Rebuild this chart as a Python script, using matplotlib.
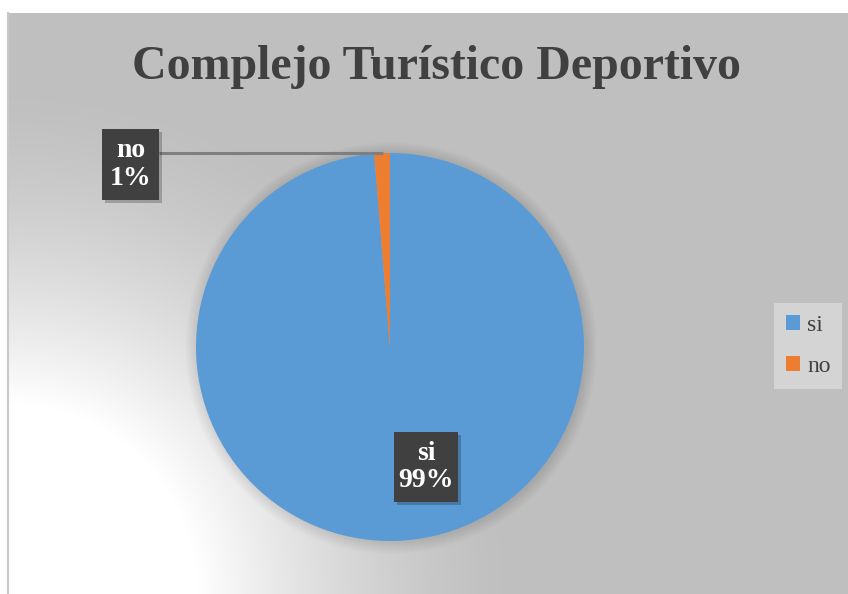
import numpy as np
import matplotlib.pyplot as plt
from matplotlib.patches import Rectangle, Circle

# Data
labels = ["si", "no"]
values = [98.7, 1.3]
pct_text = ["99%", "1%"]
colors = ["#5b9bd5", "#ed7d31"]
title = "Complejo Turístico Deportivo"

W, H = 848, 594
plt.rcParams['font.family'] = ['Liberation Serif', 'DejaVu Serif']

fig = plt.figure(figsize=(W / 100, H / 100), dpi=100)
ax = fig.add_axes([0, 0, 1, 1])

# chart area background: white glow in bottom-left corner fading to gray
x0, y0 = 7, 13  # left / top edge of chart area (px)
gx, gy = np.meshgrid(np.arange(x0, W), np.arange(0, H - y0))
d = np.hypot(gx - x0, gy)
s = np.clip((d - 190) / 320, 0, 1)
t = 1 - (1 - s) ** 1.5
shade = 1.0 * (1 - t) + 0.75 * t
img = np.dstack([shade, shade, shade])
ax.imshow(img, extent=(x0, W, 0, H - y0), origin='lower', zorder=0, interpolation='bilinear')
ax.plot([x0 + 1, x0 + 1], [0, H - y0], color='#c8c8c8', lw=1.5, zorder=1)

# pie
cx, cy, r = 390, H - 347, 194
for k in range(1, 13):
    ax.add_patch(Circle((cx + 1, cy - 1), r + k, color='black', alpha=0.008, lw=0, zorder=1.5))
wedges, _ = ax.pie(values, colors=colors, startangle=90, counterclock=False,
                   center=(cx, cy), radius=r, frame=True,
                   wedgeprops=dict(linewidth=0))
for w in wedges:
    w.set_zorder(2)
ax.set_xlim(0, W)
ax.set_ylim(0, H)
ax.set_aspect('equal')
ax.axis('off')


def label_box(x1, y1, x2, y2, lab, pct):
    # y given in image px (top-down)
    b = H - y2
    ax.add_patch(Rectangle((x1 + 3, b - 3), x2 - x1, y2 - y1, color='black', alpha=0.22, lw=0, zorder=3))
    ax.add_patch(Rectangle((x1, b), x2 - x1, y2 - y1, color='#404040', lw=0, zorder=4))
    ax.text((x1 + x2) / 2, H - (y1 + y2) / 2, f"{lab}\n{pct}", color='white', fontsize=20,
            fontweight='bold', ha='center', va='center', linespacing=1.15, zorder=5)


# leader line for the small slice
ax.plot([159, 383], [H - 153, H - 153], color='#7f7f7f', lw=2.2, zorder=3, solid_capstyle='butt')
label_box(102, 129, 159, 200, labels[1], pct_text[1])
label_box(394, 432, 458, 502, labels[0], pct_text[0])

ax.text(436, H - 67, title, fontsize=34.5, fontweight='bold', color='#404040',
        ha='center', va='center', zorder=5)

leg = ax.legend(wedges, labels, loc='lower left', bbox_to_anchor=(774 / W, 1 - 389 / H),
                borderaxespad=0, fontsize=17, frameon=True, fancybox=False,
                handlelength=0.6, handleheight=0.6, handletextpad=0.3,
                labelspacing=0.85, borderpad=0.5, labelcolor='#404040')
leg.get_frame().set_facecolor('#d4d4d4')
leg.get_frame().set_edgecolor('none')
leg.get_frame().set_alpha(1)

fig.savefig("out.png", dpi=100)
